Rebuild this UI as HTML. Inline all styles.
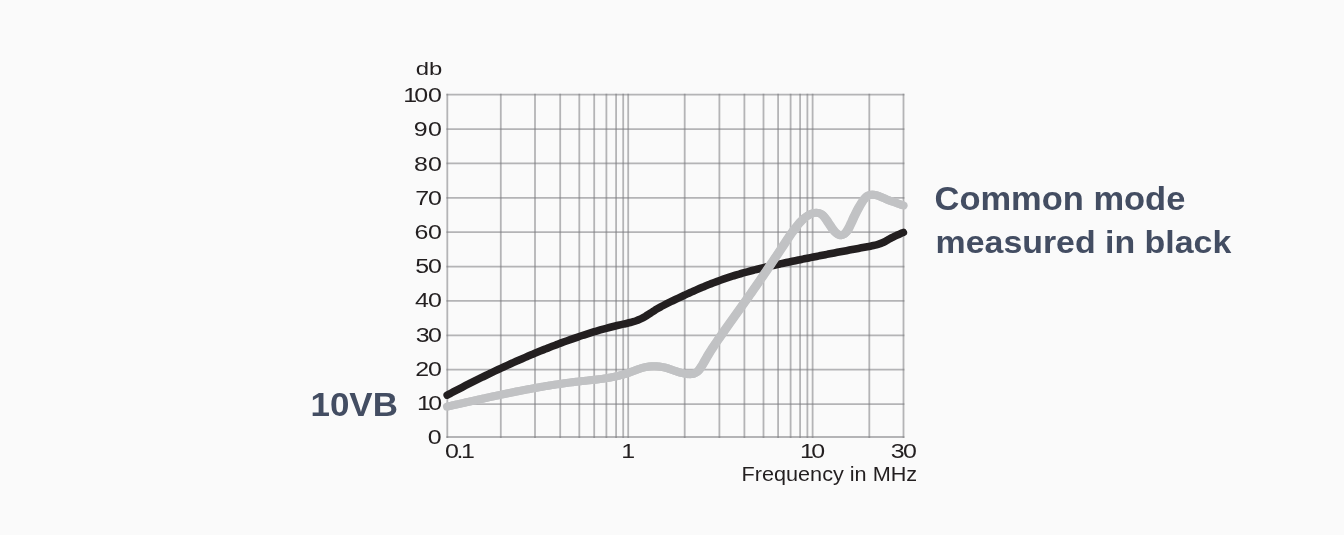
<!DOCTYPE html>
<html lang="en">
<head>
<meta charset="utf-8">
<title>10VB common mode attenuation</title>
<style>
html,body{margin:0;padding:0;background:#fafafa;}
body{width:1344px;height:535px;overflow:hidden;}
svg{display:block;}
.ax{font-family:"Liberation Sans",sans-serif;fill:#231f20;}
.lb{font-family:"Liberation Sans",sans-serif;font-weight:bold;fill:#434d62;}
</style>
</head>
<body>
<svg width="1344" height="535" viewBox="0 0 1344 535">
<rect width="1344" height="535" fill="#fafafa"/>
<g stroke="#7c7c80" stroke-opacity="0.56" stroke-width="1.8" fill="none">
<line x1="447.30" y1="93.80" x2="447.30" y2="437.90"/>
<line x1="500.80" y1="93.80" x2="500.80" y2="437.90"/>
<line x1="535.00" y1="93.80" x2="535.00" y2="437.90"/>
<line x1="560.20" y1="93.80" x2="560.20" y2="437.90"/>
<line x1="579.30" y1="93.80" x2="579.30" y2="437.90"/>
<line x1="594.20" y1="93.80" x2="594.20" y2="437.90"/>
<line x1="606.40" y1="93.80" x2="606.40" y2="437.90"/>
<line x1="616.10" y1="93.80" x2="616.10" y2="437.90"/>
<line x1="623.20" y1="93.80" x2="623.20" y2="437.90"/>
<line x1="628.20" y1="93.80" x2="628.20" y2="437.90"/>
<line x1="684.70" y1="93.80" x2="684.70" y2="437.90"/>
<line x1="719.40" y1="93.80" x2="719.40" y2="437.90"/>
<line x1="744.40" y1="93.80" x2="744.40" y2="437.90"/>
<line x1="763.50" y1="93.80" x2="763.50" y2="437.90"/>
<line x1="778.10" y1="93.80" x2="778.10" y2="437.90"/>
<line x1="790.60" y1="93.80" x2="790.60" y2="437.90"/>
<line x1="800.10" y1="93.80" x2="800.10" y2="437.90"/>
<line x1="807.40" y1="93.80" x2="807.40" y2="437.90"/>
<line x1="812.60" y1="93.80" x2="812.60" y2="437.90"/>
<line x1="869.30" y1="93.80" x2="869.30" y2="437.90"/>
<line x1="903.50" y1="93.80" x2="903.50" y2="437.90"/>
<line x1="446.40" y1="94.70" x2="904.40" y2="94.70"/>
<line x1="446.40" y1="129.07" x2="904.40" y2="129.07"/>
<line x1="446.40" y1="163.44" x2="904.40" y2="163.44"/>
<line x1="446.40" y1="197.81" x2="904.40" y2="197.81"/>
<line x1="446.40" y1="232.18" x2="904.40" y2="232.18"/>
<line x1="446.40" y1="266.55" x2="904.40" y2="266.55"/>
<line x1="446.40" y1="300.92" x2="904.40" y2="300.92"/>
<line x1="446.40" y1="335.29" x2="904.40" y2="335.29"/>
<line x1="446.40" y1="369.66" x2="904.40" y2="369.66"/>
<line x1="446.40" y1="404.03" x2="904.40" y2="404.03"/>
<line x1="446.40" y1="437.00" x2="904.40" y2="437.00"/>
</g>
<path d="M447.20 395.12 C447.70 394.86 449.20 394.06 450.20 393.53 C451.20 393.00 452.20 392.48 453.20 391.95 C454.20 391.42 455.20 390.90 456.20 390.38 C457.20 389.86 458.20 389.34 459.21 388.82 C460.21 388.30 461.21 387.78 462.21 387.27 C463.21 386.75 464.21 386.24 465.21 385.73 C466.21 385.21 467.21 384.70 468.21 384.20 C469.21 383.69 470.21 383.18 471.21 382.68 C472.21 382.17 473.21 381.67 474.21 381.17 C475.21 380.67 476.21 380.17 477.21 379.67 C478.21 379.18 479.21 378.68 480.21 378.19 C481.21 377.70 482.22 377.21 483.22 376.72 C484.22 376.23 485.22 375.74 486.22 375.25 C487.22 374.77 488.22 374.29 489.22 373.80 C490.22 373.32 491.22 372.84 492.22 372.37 C493.22 371.89 494.22 371.41 495.22 370.94 C496.22 370.47 497.22 370.00 498.22 369.53 C499.22 369.06 500.22 368.59 501.22 368.13 C502.22 367.66 503.22 367.20 504.22 366.74 C505.23 366.28 506.23 365.82 507.23 365.36 C508.23 364.90 509.23 364.45 510.23 364.00 C511.23 363.55 512.23 363.10 513.23 362.65 C514.23 362.20 515.23 361.75 516.23 361.31 C517.23 360.87 518.23 360.43 519.23 359.99 C520.23 359.55 521.23 359.11 522.23 358.68 C523.23 358.24 524.23 357.81 525.23 357.38 C526.23 356.95 527.24 356.52 528.24 356.09 C529.24 355.67 530.24 355.25 531.24 354.82 C532.24 354.40 533.24 353.99 534.24 353.57 C535.24 353.15 536.24 352.74 537.24 352.33 C538.24 351.92 539.24 351.51 540.24 351.10 C541.24 350.69 542.24 350.29 543.24 349.89 C544.24 349.48 545.24 349.09 546.24 348.69 C547.24 348.29 548.24 347.90 549.24 347.50 C550.25 347.11 551.25 346.72 552.25 346.33 C553.25 345.95 554.25 345.56 555.25 345.18 C556.25 344.80 557.25 344.42 558.25 344.04 C559.25 343.66 560.25 343.29 561.25 342.92 C562.25 342.55 563.25 342.18 564.25 341.81 C565.25 341.44 566.25 341.08 567.25 340.72 C568.25 340.36 569.25 340.00 570.25 339.64 C571.25 339.29 572.25 338.93 573.26 338.58 C574.26 338.23 575.26 337.89 576.26 337.54 C577.26 337.20 578.26 336.86 579.26 336.52 C580.26 336.19 581.26 335.85 582.26 335.52 C583.26 335.19 584.26 334.87 585.26 334.54 C586.26 334.22 587.26 333.90 588.26 333.58 C589.26 333.27 590.26 332.95 591.26 332.64 C592.26 332.33 593.26 332.03 594.26 331.73 C595.26 331.43 596.27 331.13 597.27 330.83 C598.27 330.54 599.27 330.25 600.27 329.96 C601.27 329.68 602.27 329.40 603.27 329.12 C604.27 328.84 605.27 328.57 606.27 328.30 C607.27 328.03 608.27 327.76 609.27 327.50 C610.27 327.24 611.27 326.98 612.27 326.73 C613.27 326.48 614.27 326.23 615.27 325.99 C616.27 325.75 617.27 325.51 618.27 325.27 C619.28 325.04 620.28 324.81 621.28 324.59 C622.28 324.36 623.28 324.15 624.28 323.93 C625.28 323.71 626.28 323.50 627.28 323.27 C628.28 323.04 629.28 322.81 630.28 322.55 C631.28 322.30 632.28 322.03 633.28 321.73 C634.28 321.43 635.28 321.11 636.28 320.75 C637.28 320.38 638.28 319.98 639.28 319.54 C640.28 319.10 641.29 318.61 642.29 318.08 C643.29 317.56 644.29 316.99 645.29 316.39 C646.29 315.80 647.29 315.16 648.29 314.52 C649.29 313.88 650.29 313.22 651.29 312.57 C652.29 311.93 653.29 311.28 654.29 310.66 C655.29 310.04 656.29 309.43 657.29 308.84 C658.29 308.26 659.29 307.69 660.29 307.13 C661.29 306.57 662.29 306.03 663.29 305.50 C664.30 304.97 665.30 304.45 666.30 303.94 C667.30 303.43 668.30 302.93 669.30 302.44 C670.30 301.94 671.30 301.46 672.30 300.97 C673.30 300.49 674.30 300.01 675.30 299.54 C676.30 299.06 677.30 298.59 678.30 298.12 C679.30 297.64 680.30 297.17 681.30 296.70 C682.30 296.24 683.30 295.77 684.30 295.31 C685.30 294.84 686.30 294.38 687.31 293.92 C688.31 293.47 689.31 293.01 690.31 292.56 C691.31 292.11 692.31 291.66 693.31 291.21 C694.31 290.76 695.31 290.32 696.31 289.88 C697.31 289.44 698.31 289.01 699.31 288.58 C700.31 288.15 701.31 287.72 702.31 287.30 C703.31 286.88 704.31 286.46 705.31 286.04 C706.31 285.63 707.31 285.22 708.31 284.82 C709.31 284.41 710.32 284.01 711.32 283.62 C712.32 283.23 713.32 282.84 714.32 282.45 C715.32 282.07 716.32 281.69 717.32 281.32 C718.32 280.95 719.32 280.58 720.32 280.22 C721.32 279.86 722.32 279.51 723.32 279.16 C724.32 278.81 725.32 278.47 726.32 278.13 C727.32 277.80 728.32 277.47 729.32 277.14 C730.32 276.81 731.32 276.49 732.33 276.18 C733.33 275.86 734.33 275.55 735.33 275.25 C736.33 274.94 737.33 274.64 738.33 274.34 C739.33 274.05 740.33 273.75 741.33 273.47 C742.33 273.18 743.33 272.89 744.33 272.62 C745.33 272.34 746.33 272.06 747.33 271.79 C748.33 271.52 749.33 271.25 750.33 270.98 C751.33 270.72 752.33 270.46 753.33 270.20 C754.33 269.94 755.34 269.69 756.34 269.44 C757.34 269.18 758.34 268.94 759.34 268.69 C760.34 268.44 761.34 268.20 762.34 267.96 C763.34 267.72 764.34 267.48 765.34 267.25 C766.34 267.01 767.34 266.78 768.34 266.55 C769.34 266.31 770.34 266.08 771.34 265.86 C772.34 265.63 773.34 265.40 774.34 265.18 C775.34 264.96 776.34 264.74 777.34 264.51 C778.35 264.29 779.35 264.08 780.35 263.86 C781.35 263.64 782.35 263.42 783.35 263.21 C784.35 262.99 785.35 262.78 786.35 262.57 C787.35 262.36 788.35 262.14 789.35 261.93 C790.35 261.72 791.35 261.51 792.35 261.30 C793.35 261.09 794.35 260.89 795.35 260.68 C796.35 260.47 797.35 260.26 798.35 260.06 C799.35 259.85 800.35 259.65 801.36 259.44 C802.36 259.24 803.36 259.03 804.36 258.83 C805.36 258.63 806.36 258.42 807.36 258.22 C808.36 258.02 809.36 257.82 810.36 257.62 C811.36 257.42 812.36 257.22 813.36 257.02 C814.36 256.82 815.36 256.62 816.36 256.42 C817.36 256.23 818.36 256.03 819.36 255.83 C820.36 255.63 821.36 255.44 822.36 255.24 C823.36 255.05 824.37 254.85 825.37 254.66 C826.37 254.46 827.37 254.27 828.37 254.07 C829.37 253.88 830.37 253.69 831.37 253.50 C832.37 253.30 833.37 253.11 834.37 252.92 C835.37 252.73 836.37 252.54 837.37 252.34 C838.37 252.15 839.37 251.96 840.37 251.77 C841.37 251.58 842.37 251.39 843.37 251.20 C844.37 251.02 845.37 250.83 846.38 250.64 C847.38 250.45 848.38 250.26 849.38 250.07 C850.38 249.89 851.38 249.70 852.38 249.51 C853.38 249.32 854.38 249.14 855.38 248.95 C856.38 248.76 857.38 248.58 858.38 248.39 C859.38 248.21 860.38 248.02 861.38 247.83 C862.38 247.65 863.38 247.46 864.38 247.28 C865.38 247.09 866.38 246.91 867.38 246.72 C868.38 246.54 869.39 246.36 870.39 246.17 C871.39 245.98 872.39 245.79 873.39 245.57 C874.39 245.35 875.39 245.13 876.39 244.86 C877.39 244.59 878.39 244.30 879.39 243.95 C880.39 243.60 881.39 243.20 882.39 242.76 C883.39 242.31 884.39 241.79 885.39 241.27 C886.39 240.74 887.39 240.16 888.39 239.61 C889.39 239.05 890.39 238.47 891.39 237.93 C892.40 237.39 893.40 236.86 894.40 236.36 C895.40 235.86 896.40 235.37 897.40 234.92 C898.40 234.47 899.40 234.06 900.40 233.66 C901.40 233.26 902.90 232.71 903.40 232.53" fill="none" stroke="#231f20" stroke-width="7.6" stroke-linecap="round" stroke-linejoin="round"/>
<g fill="none" stroke="#c1c2c4" stroke-linejoin="round">
<path d="M447.00 406.64 C447.42 406.55 448.66 406.27 449.50 406.08 C450.33 405.90 451.16 405.71 451.99 405.53 C452.82 405.34 453.65 405.16 454.49 404.97 C455.32 404.78 456.15 404.60 456.98 404.41 C457.81 404.22 458.64 404.04 459.48 403.85 C460.31 403.67 461.14 403.48 461.97 403.29 C462.80 403.11 463.63 402.92 464.47 402.74 C465.30 402.55 466.13 402.36 466.96 402.18 C467.79 401.99 468.62 401.80 469.46 401.62 C470.29 401.43 471.12 401.25 471.95 401.06 C472.78 400.88 473.61 400.69 474.45 400.51 C475.28 400.32 476.11 400.14 476.94 399.95 C477.77 399.77 478.60 399.58 479.44 399.40 C480.27 399.22 481.10 399.03 481.93 398.85 C482.76 398.66 483.59 398.48 484.43 398.30 C485.26 398.12 486.09 397.93 486.92 397.75 C487.75 397.57 488.58 397.39 489.42 397.21 C490.25 397.03 491.08 396.85 491.91 396.67 C492.74 396.49 493.57 396.31 494.41 396.13 C495.24 395.95 496.07 395.77 496.90 395.59 C497.73 395.42 498.57 395.24 499.40 395.06 C500.23 394.89 501.06 394.71 501.89 394.53 C502.72 394.36 503.56 394.19 504.39 394.01 C505.22 393.84 506.05 393.66 506.88 393.49 C507.71 393.32 508.55 393.15 509.38 392.98 C510.21 392.81 511.04 392.64 511.87 392.47 C512.70 392.30 513.54 392.13 514.37 391.96 C515.20 391.80 516.03 391.63 516.86 391.46 C517.69 391.30 518.53 391.13 519.36 390.97 C520.19 390.81 521.02 390.64 521.85 390.48 C522.68 390.32 523.52 390.16 524.35 390.00 C525.18 389.84 526.01 389.68 526.84 389.52 C527.67 389.36 528.51 389.21 529.34 389.05 C530.17 388.90 531.00 388.74 531.83 388.59 C532.66 388.44 533.50 388.29 534.33 388.13 C535.16 387.98 535.99 387.83 536.82 387.69 C537.65 387.54 538.49 387.39 539.32 387.25 C540.15 387.10 540.98 386.96 541.81 386.81 C542.64 386.67 543.48 386.53 544.31 386.39 C545.14 386.25 545.97 386.11 546.80 385.97 C547.63 385.83 548.47 385.70 549.30 385.56 C550.13 385.43 550.96 385.29 551.79 385.16 C552.63 385.03 553.46 384.90 554.29 384.77 C555.12 384.64 555.95 384.52 556.78 384.39 C557.62 384.26 558.45 384.14 559.28 384.02 C560.11 383.90 560.94 383.77 561.77 383.66 C562.61 383.54 563.44 383.42 564.27 383.30 C565.10 383.19 565.93 383.07 566.76 382.96 C567.60 382.85 568.43 382.74 569.26 382.63 C570.09 382.52 570.92 382.41 571.75 382.31 C572.59 382.20 573.42 382.10 574.25 382.00 C575.08 381.90 575.91 381.80 576.74 381.70 C577.58 381.60 578.41 381.51 579.24 381.41 C580.07 381.32 580.90 381.23 581.73 381.14 C582.57 381.05 583.40 380.96 584.23 380.87 C585.06 380.78 585.89 380.70 586.72 380.61 C587.56 380.52 588.39 380.43 589.22 380.35 C590.05 380.26 590.88 380.17 591.71 380.08 C592.55 379.99 593.38 379.90 594.21 379.80 C595.04 379.71 595.87 379.61 596.70 379.52 C597.54 379.42 598.37 379.32 599.20 379.21 C600.03 379.10 600.86 379.00 601.70 378.88 C602.53 378.77 603.36 378.65 604.19 378.53 C605.02 378.41 605.85 378.28 606.69 378.15 C607.52 378.01 608.35 377.87 609.18 377.73 C610.01 377.58 610.84 377.43 611.68 377.27 C612.51 377.11 613.34 376.94 614.17 376.77 C615.00 376.59 615.83 376.41 616.67 376.22 C617.50 376.03 618.33 375.83 619.16 375.62 C619.99 375.41 620.82 375.19 621.66 374.96 C622.49 374.73 623.32 374.49 624.15 374.24 C624.98 373.99 625.81 373.73 626.65 373.46 C627.48 373.19 628.31 372.90 629.14 372.61 C629.97 372.31 630.80 372.00 631.64 371.70 C632.47 371.39 633.30 371.07 634.13 370.76 C634.96 370.45 635.79 370.13 636.63 369.83 C637.46 369.53 638.29 369.23 639.12 368.94 C639.95 368.66 640.78 368.38 641.62 368.13 C642.45 367.88 643.28 367.63 644.11 367.42 C644.94 367.21 645.77 367.01 646.61 366.85 C647.44 366.69 648.27 366.55 649.10 366.45 C649.93 366.34 650.77 366.27 651.60 366.22 C652.43 366.17 653.26 366.14 654.09 366.15 C654.92 366.15 655.76 366.19 656.59 366.24 C657.42 366.30 658.25 366.38 659.08 366.49 C659.91 366.59 660.75 366.73 661.58 366.88 C662.41 367.03 663.24 367.21 664.07 367.41 C664.90 367.61 665.74 367.84 666.57 368.08 C667.40 368.32 668.23 368.58 669.06 368.85 C669.89 369.11 670.73 369.40 671.56 369.68 C672.39 369.97 673.22 370.26 674.05 370.55 C674.88 370.83 675.72 371.12 676.55 371.40 C677.38 371.68 678.21 371.95 679.04 372.21 C679.87 372.46 680.71 372.70 681.54 372.92 C682.37 373.14 683.20 373.34 684.03 373.51 C684.86 373.68 685.70 373.83 686.53 373.94 C687.36 374.05 688.19 374.13 689.02 374.17 C689.85 374.20 690.69 374.22 691.52 374.14 C692.35 374.05 693.18 373.94 694.01 373.65 C694.84 373.36 695.68 372.99 696.51 372.38 C697.34 371.77 698.17 370.98 699.00 369.99 C699.83 369.01 700.67 367.75 701.50 366.45 C702.33 365.16 703.16 363.66 703.99 362.22 C704.83 360.78 705.66 359.25 706.49 357.81 C707.32 356.38 708.15 354.97 708.98 353.61 C709.82 352.24 710.65 350.92 711.48 349.62 C712.31 348.32 713.14 347.06 713.97 345.81 C714.81 344.56 715.64 343.34 716.47 342.13 C717.30 340.91 718.13 339.71 718.96 338.51 C719.80 337.32 720.63 336.12 721.46 334.93 C722.29 333.74 723.12 332.56 723.95 331.37 C724.79 330.19 725.62 329.01 726.45 327.83 C727.28 326.65 728.11 325.47 728.94 324.30 C729.78 323.12 730.61 321.95 731.44 320.78 C732.27 319.60 733.10 318.43 733.93 317.26 C734.77 316.09 735.60 314.92 736.43 313.75 C737.26 312.58 738.09 311.41 738.92 310.24 C739.76 309.07 740.59 307.91 741.42 306.73 C742.25 305.56 743.08 304.39 743.91 303.22 C744.75 302.05 745.58 300.88 746.41 299.70 C747.24 298.53 748.07 297.35 748.90 296.17 C749.74 294.99 750.57 293.81 751.40 292.63 C752.23 291.44 753.06 290.26 753.90 289.07 C754.73 287.88 755.56 286.69 756.39 285.49 C757.22 284.29 758.05 283.10 758.89 281.89 C759.72 280.69 760.55 279.48 761.38 278.27 C762.21 277.06 763.04 275.84 763.88 274.62 C764.71 273.40 765.54 272.18 766.37 270.95 C767.20 269.73 768.03 268.50 768.87 267.26 C769.70 266.03 770.53 264.80 771.36 263.56 C772.19 262.32 773.02 261.07 773.86 259.83 C774.69 258.58 775.52 257.34 776.35 256.08 C777.18 254.83 778.01 253.58 778.85 252.32 C779.68 251.07 780.51 249.81 781.34 248.55 C782.17 247.29 783.00 246.03 783.84 244.76 C784.67 243.50 785.50 242.23 786.33 240.97 C787.16 239.71 787.99 238.45 788.83 237.21 C789.66 235.98 790.49 234.75 791.32 233.56 C792.15 232.37 792.98 231.20 793.82 230.08 C794.65 228.95 795.48 227.86 796.31 226.81 C797.14 225.76 797.97 224.75 798.81 223.80 C799.64 222.84 800.47 221.93 801.30 221.07 C802.13 220.22 802.97 219.41 803.80 218.67 C804.63 217.93 805.46 217.24 806.29 216.63 C807.12 216.01 807.96 215.46 808.79 214.98 C809.62 214.50 810.45 214.09 811.28 213.76 C812.11 213.43 812.95 213.17 813.78 213.00 C814.61 212.83 815.44 212.73 816.27 212.74 C817.10 212.75 817.94 212.81 818.77 213.04 C819.60 213.28 820.43 213.59 821.26 214.13 C822.09 214.67 822.93 215.38 823.76 216.28 C824.59 217.18 825.42 218.36 826.25 219.54 C827.08 220.72 827.92 222.08 828.75 223.34 C829.58 224.61 830.41 225.94 831.24 227.13 C832.07 228.32 832.91 229.50 833.74 230.50 C834.57 231.49 835.40 232.40 836.23 233.11 C837.06 233.82 837.90 234.40 838.73 234.76 C839.56 235.12 840.39 235.31 841.22 235.26 C842.05 235.20 842.89 234.95 843.72 234.43 C844.55 233.91 845.38 233.16 846.21 232.13 C847.04 231.09 847.88 229.73 848.71 228.22 C849.54 226.71 850.37 224.84 851.20 223.06 C852.03 221.29 852.87 219.34 853.70 217.57 C854.53 215.80 855.36 214.08 856.19 212.44 C857.03 210.80 857.86 209.24 858.69 207.75 C859.52 206.26 860.35 204.83 861.18 203.50 C862.02 202.17 862.85 200.86 863.68 199.76 C864.51 198.66 865.34 197.65 866.17 196.91 C867.01 196.17 867.84 195.67 868.67 195.29 C869.50 194.92 870.33 194.76 871.16 194.65 C872.00 194.55 872.83 194.57 873.66 194.65 C874.49 194.74 875.32 194.92 876.15 195.14 C876.99 195.35 877.82 195.65 878.65 195.96 C879.48 196.27 880.31 196.64 881.14 197.00 C881.98 197.36 882.81 197.75 883.64 198.11 C884.47 198.48 885.30 198.84 886.13 199.18 C886.97 199.52 887.80 199.84 888.63 200.15 C889.46 200.47 890.29 200.77 891.12 201.07 C891.96 201.38 892.79 201.67 893.62 201.96 C894.45 202.26 895.28 202.56 896.11 202.86 C896.95 203.16 897.78 203.46 898.61 203.76 C899.44 204.07 900.27 204.37 901.10 204.68 C901.94 204.99 903.18 205.45 903.60 205.60" stroke-width="8.0" stroke-linecap="round"/>
<path transform="scale(1.2 1)" d="M372.50 406.64 C372.85 406.55 373.89 406.27 374.58 406.08 C375.27 405.90 375.97 405.71 376.66 405.53 C377.35 405.34 378.04 405.16 378.74 404.97 C379.43 404.78 380.12 404.60 380.82 404.41 C381.51 404.22 382.20 404.04 382.90 403.85 C383.59 403.67 384.28 403.48 384.98 403.29 C385.67 403.11 386.36 402.92 387.05 402.74 C387.75 402.55 388.44 402.36 389.13 402.18 C389.83 401.99 390.52 401.80 391.21 401.62 C391.91 401.43 392.60 401.25 393.29 401.06 C393.99 400.88 394.68 400.69 395.37 400.51 C396.06 400.32 396.76 400.14 397.45 399.95 C398.14 399.77 398.84 399.58 399.53 399.40 C400.22 399.22 400.92 399.03 401.61 398.85 C402.30 398.66 403.00 398.48 403.69 398.30 C404.38 398.12 405.07 397.93 405.77 397.75 C406.46 397.57 407.15 397.39 407.85 397.21 C408.54 397.03 409.23 396.85 409.93 396.67 C410.62 396.49 411.31 396.31 412.01 396.13 C412.70 395.95 413.39 395.77 414.08 395.59 C414.78 395.42 415.47 395.24 416.16 395.06 C416.86 394.89 417.55 394.71 418.24 394.53 C418.94 394.36 419.63 394.19 420.32 394.01 C421.02 393.84 421.71 393.66 422.40 393.49 C423.09 393.32 423.79 393.15 424.48 392.98 C425.17 392.81 425.87 392.64 426.56 392.47 C427.25 392.30 427.95 392.13 428.64 391.96 C429.33 391.80 430.03 391.63 430.72 391.46 C431.41 391.30 432.10 391.13 432.80 390.97 C433.49 390.81 434.18 390.64 434.88 390.48 C435.57 390.32 436.26 390.16 436.96 390.00 C437.65 389.84 438.34 389.68 439.04 389.52 C439.73 389.36 440.42 389.21 441.11 389.05 C441.81 388.90 442.50 388.74 443.19 388.59 C443.89 388.44 444.58 388.29 445.27 388.13 C445.97 387.98 446.66 387.83 447.35 387.69 C448.05 387.54 448.74 387.39 449.43 387.25 C450.12 387.10 450.82 386.96 451.51 386.81 C452.20 386.67 452.90 386.53 453.59 386.39 C454.28 386.25 454.98 386.11 455.67 385.97 C456.36 385.83 457.06 385.70 457.75 385.56 C458.44 385.43 459.13 385.29 459.83 385.16 C460.52 385.03 461.21 384.90 461.91 384.77 C462.60 384.64 463.29 384.52 463.99 384.39 C464.68 384.26 465.37 384.14 466.07 384.02 C466.76 383.90 467.45 383.77 468.14 383.66 C468.84 383.54 469.53 383.42 470.22 383.30 C470.92 383.19 471.61 383.07 472.30 382.96 C473.00 382.85 473.69 382.74 474.38 382.63 C475.08 382.52 475.77 382.41 476.46 382.31 C477.15 382.20 477.85 382.10 478.54 382.00 C479.23 381.90 479.93 381.80 480.62 381.70 C481.31 381.60 482.01 381.51 482.70 381.41 C483.39 381.32 484.09 381.23 484.78 381.14 C485.47 381.05 486.16 380.96 486.86 380.87 C487.55 380.78 488.24 380.70 488.94 380.61 C489.63 380.52 490.32 380.43 491.02 380.35 C491.71 380.26 492.40 380.17 493.10 380.08 C493.79 379.99 494.48 379.90 495.17 379.80 C495.87 379.71 496.56 379.61 497.25 379.52 C497.95 379.42 498.64 379.32 499.33 379.21 C500.03 379.10 500.72 379.00 501.41 378.88 C502.11 378.77 502.80 378.65 503.49 378.53 C504.18 378.41 504.88 378.28 505.57 378.15 C506.26 378.01 506.96 377.87 507.65 377.73 C508.34 377.58 509.04 377.43 509.73 377.27 C510.42 377.11 511.12 376.94 511.81 376.77 C512.50 376.59 513.19 376.41 513.89 376.22 C514.58 376.03 515.27 375.83 515.97 375.62 C516.66 375.41 517.35 375.19 518.05 374.96 C518.74 374.73 519.43 374.49 520.13 374.24 C520.82 373.99 521.51 373.73 522.20 373.46 C522.90 373.19 523.59 372.90 524.28 372.61 C524.98 372.31 525.67 372.00 526.36 371.70 C527.06 371.39 527.75 371.07 528.44 370.76 C529.14 370.45 529.83 370.13 530.52 369.83 C531.21 369.53 531.91 369.23 532.60 368.94 C533.29 368.66 533.99 368.38 534.68 368.13 C535.37 367.88 536.07 367.63 536.76 367.42 C537.45 367.21 538.15 367.01 538.84 366.85 C539.53 366.69 540.22 366.55 540.92 366.45 C541.61 366.34 542.30 366.27 543.00 366.22 C543.69 366.17 544.38 366.14 545.08 366.15 C545.77 366.15 546.46 366.19 547.16 366.24 C547.85 366.30 548.54 366.38 549.23 366.49 C549.93 366.59 550.62 366.73 551.31 366.88 C552.01 367.03 552.70 367.21 553.39 367.41 C554.09 367.61 554.78 367.84 555.47 368.08 C556.17 368.32 556.86 368.58 557.55 368.85 C558.24 369.11 558.94 369.40 559.63 369.68 C560.32 369.97 561.02 370.26 561.71 370.55 C562.40 370.83 563.10 371.12 563.79 371.40 C564.48 371.68 565.18 371.95 565.87 372.21 C566.56 372.46 567.26 372.70 567.95 372.92 C568.64 373.14 569.33 373.34 570.03 373.51 C570.72 373.68 571.41 373.83 572.11 373.94 C572.80 374.05 573.49 374.13 574.19 374.17 C574.88 374.20 575.57 374.22 576.27 374.14 C576.96 374.05 577.65 373.94 578.34 373.65 C579.04 373.36 579.73 372.99 580.42 372.38 C581.12 371.77 581.81 370.98 582.50 369.99 C583.20 369.01 583.89 367.75 584.58 366.45 C585.28 365.16 585.97 363.66 586.66 362.22 C587.35 360.78 588.05 359.25 588.74 357.81 C589.43 356.38 590.13 354.97 590.82 353.61 C591.51 352.24 592.21 350.92 592.90 349.62 C593.59 348.32 594.29 347.06 594.98 345.81 C595.67 344.56 596.36 343.34 597.06 342.13 C597.75 340.91 598.44 339.71 599.14 338.51 C599.83 337.32 600.52 336.12 601.22 334.93 C601.91 333.74 602.60 332.56 603.30 331.37 C603.99 330.19 604.68 329.01 605.37 327.83 C606.07 326.65 606.76 325.47 607.45 324.30 C608.15 323.12 608.84 321.95 609.53 320.78 C610.23 319.60 610.92 318.43 611.61 317.26 C612.31 316.09 613.00 314.92 613.69 313.75 C614.38 312.58 615.08 311.41 615.77 310.24 C616.46 309.07 617.16 307.91 617.85 306.73 C618.54 305.56 619.24 304.39 619.93 303.22 C620.62 302.05 621.32 300.88 622.01 299.70 C622.70 298.53 623.39 297.35 624.09 296.17 C624.78 294.99 625.47 293.81 626.17 292.63 C626.86 291.44 627.55 290.26 628.25 289.07 C628.94 287.88 629.63 286.69 630.33 285.49 C631.02 284.29 631.71 283.10 632.40 281.89 C633.10 280.69 633.79 279.48 634.48 278.27 C635.18 277.06 635.87 275.84 636.56 274.62 C637.26 273.40 637.95 272.18 638.64 270.95 C639.34 269.73 640.03 268.50 640.72 267.26 C641.41 266.03 642.11 264.80 642.80 263.56 C643.49 262.32 644.19 261.07 644.88 259.83 C645.57 258.58 646.27 257.34 646.96 256.08 C647.65 254.83 648.35 253.58 649.04 252.32 C649.73 251.07 650.42 249.81 651.12 248.55 C651.81 247.29 652.50 246.03 653.20 244.76 C653.89 243.50 654.58 242.23 655.28 240.97 C655.97 239.71 656.66 238.45 657.36 237.21 C658.05 235.98 658.74 234.75 659.43 233.56 C660.13 232.37 660.82 231.20 661.51 230.08 C662.21 228.95 662.90 227.86 663.59 226.81 C664.29 225.76 664.98 224.75 665.67 223.80 C666.37 222.84 667.06 221.93 667.75 221.07 C668.44 220.22 669.14 219.41 669.83 218.67 C670.52 217.93 671.22 217.24 671.91 216.63 C672.60 216.01 673.30 215.46 673.99 214.98 C674.68 214.50 675.38 214.09 676.07 213.76 C676.76 213.43 677.45 213.17 678.15 213.00 C678.84 212.83 679.53 212.73 680.23 212.74 C680.92 212.75 681.61 212.81 682.31 213.04 C683.00 213.28 683.69 213.59 684.39 214.13 C685.08 214.67 685.77 215.38 686.46 216.28 C687.16 217.18 687.85 218.36 688.54 219.54 C689.24 220.72 689.93 222.08 690.62 223.34 C691.32 224.61 692.01 225.94 692.70 227.13 C693.40 228.32 694.09 229.50 694.78 230.50 C695.47 231.49 696.17 232.40 696.86 233.11 C697.55 233.82 698.25 234.40 698.94 234.76 C699.63 235.12 700.33 235.31 701.02 235.26 C701.71 235.20 702.41 234.95 703.10 234.43 C703.79 233.91 704.48 233.16 705.18 232.13 C705.87 231.09 706.56 229.73 707.26 228.22 C707.95 226.71 708.64 224.84 709.34 223.06 C710.03 221.29 710.72 219.34 711.42 217.57 C712.11 215.80 712.80 214.08 713.49 212.44 C714.19 210.80 714.88 209.24 715.57 207.75 C716.27 206.26 716.96 204.83 717.65 203.50 C718.35 202.17 719.04 200.86 719.73 199.76 C720.43 198.66 721.12 197.65 721.81 196.91 C722.50 196.17 723.20 195.67 723.89 195.29 C724.58 194.92 725.28 194.76 725.97 194.65 C726.66 194.55 727.36 194.57 728.05 194.65 C728.74 194.74 729.44 194.92 730.13 195.14 C730.82 195.35 731.51 195.65 732.21 195.96 C732.90 196.27 733.59 196.64 734.29 197.00 C734.98 197.36 735.67 197.75 736.37 198.11 C737.06 198.48 737.75 198.84 738.45 199.18 C739.14 199.52 739.83 199.84 740.52 200.15 C741.22 200.47 741.91 200.77 742.60 201.07 C743.30 201.38 743.99 201.67 744.68 201.96 C745.38 202.26 746.07 202.56 746.76 202.86 C747.46 203.16 748.15 203.46 748.84 203.76 C749.53 204.07 750.23 204.37 750.92 204.68 C751.61 204.99 752.65 205.45 753.00 205.60" stroke-width="7.9" stroke-linecap="butt"/>
</g>
<text class="ax" id="y100" transform="scale(1.2000 1)" x="336.09 345.30 356.72" y="102.30" font-size="20.8">100</text>
<text class="ax" id="y90" transform="scale(1.2000 1)" x="344.85 356.72" y="136.50" font-size="20.8">90</text>
<text class="ax" id="y80" transform="scale(1.2000 1)" x="345.09 356.72" y="170.70" font-size="20.8">80</text>
<text class="ax" id="y70" transform="scale(1.2000 1)" x="346.08 356.72" y="204.90" font-size="20.8">70</text>
<text class="ax" id="y60" transform="scale(1.2000 1)" x="345.44 356.72" y="239.10" font-size="20.8">60</text>
<text class="ax" id="y50" transform="scale(1.2000 1)" x="346.07 356.72" y="273.30" font-size="20.8">50</text>
<text class="ax" id="y40" transform="scale(1.2000 1)" x="345.82 356.72" y="307.50" font-size="20.8">40</text>
<text class="ax" id="y30" transform="scale(1.2000 1)" x="346.36 356.72" y="341.70" font-size="20.8">30</text>
<text class="ax" id="y20" transform="scale(1.2000 1)" x="346.05 356.72" y="375.90" font-size="20.8">20</text>
<text class="ax" id="y10" transform="scale(1.2000 1)" x="347.59 356.80" y="410.10" font-size="20.8">10</text>
<text class="ax" id="y0" transform="scale(1.2000 1)" x="356.55" y="444.30" font-size="20.8">0</text>
<text class="ax" id="db" transform="translate(415.69 75.30) scale(1.2710 1)" font-size="18.8" text-anchor="start" letter-spacing="0">db</text>
<text class="ax" id="x01" transform="scale(1.2000 1)" x="370.80 380.36 384.09" y="458.30" font-size="20.8">0.1</text>
<text class="ax" id="x1" transform="scale(1.2000 1)" x="517.68" y="458.30" font-size="20.8">1</text>
<text class="ax" id="x10" transform="scale(1.2000 1)" x="666.76 676.13" y="458.30" font-size="20.8">10</text>
<text class="ax" id="x30" transform="scale(1.2000 1)" x="742.24 752.59" y="458.30" font-size="20.8">30</text>
<text class="ax" id="freq" transform="translate(741.55 481.10) scale(1.0310 1)" font-size="21" text-anchor="start" letter-spacing="0">Frequency in MHz</text>
<text class="lb" id="l10vb" transform="translate(310.50 415.70) scale(1.0397 1)" font-size="33.6" text-anchor="start" letter-spacing="0">10VB</text>
<text class="lb" id="cm1" transform="translate(934.53 209.70) scale(1.0643 1)" font-size="32.4" text-anchor="start" letter-spacing="0">Common mode</text>
<text class="lb" id="cm2" transform="translate(935.56 252.90) scale(1.0657 1)" font-size="31.8" text-anchor="start" letter-spacing="0">measured in black</text>
</svg>
</body>
</html>
